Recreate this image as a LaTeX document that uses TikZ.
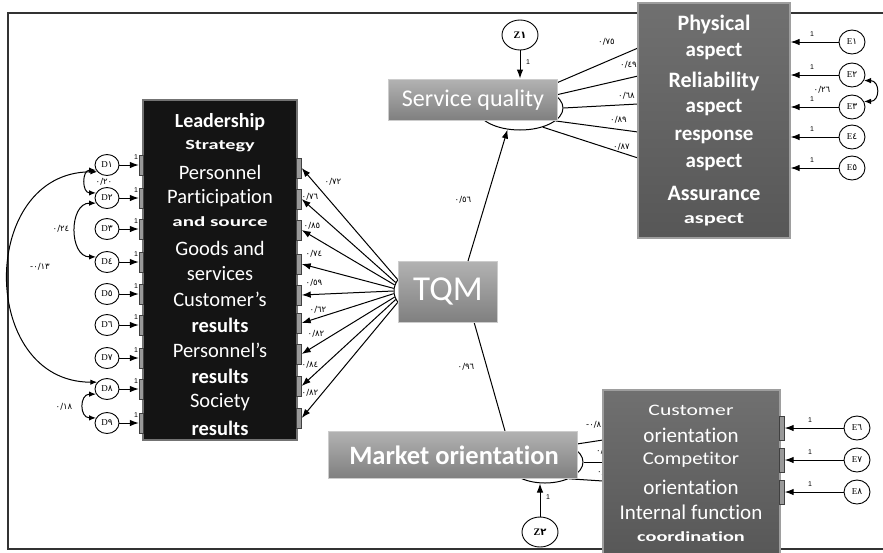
\documentclass[tikz,border=0pt]{standalone}
\usepackage{fontspec}
\setmainfont{Carlito}[Ligatures=NoCommon]
\newfontfamily\digitfont{DejaVu Sans}
\newfontfamily\letterfont{Liberation Serif}
\newfontfamily\smallfont{Liberation Sans}
\usetikzlibrary{arrows.meta,shapes.geometric}
\pgfdeclarelayer{back}
\pgfsetlayers{back,main}
\newcommand\txtsize[1]{\fontsize{#1}{#1}\selectfont}
\newcommand\wide[2]{\scalebox{#1}[1]{#2}}

\tikzset{
  link/.style={draw=black, line width=1pt},
  arr/.style={link, -{Latex[length=9pt,width=6.5pt]}},
  dual/.style={link, {Latex[length=7pt,width=5.5pt]}-{Latex[length=7pt,width=5.5pt]}},
  errD/.style={ellipse, draw, line width=0.9pt, fill=white, inner sep=0pt,
    minimum width=24pt, minimum height=21pt, font=\letterfont\txtsize{9}},
  errE/.style={errD, minimum width=26pt, minimum height=24pt},
  distz/.style={errD, minimum width=36pt, minimum height=30pt, font=\letterfont\bfseries\txtsize{10}},
  latent/.style={ellipse, draw, line width=1pt, fill=white, inner sep=0pt},
  coef/.style={font=\digitfont\txtsize{8.5}, inner sep=0pt},
  one/.style={font=\smallfont\txtsize{7}, inner sep=0pt},
  blackbox/.style={draw=black!55, line width=1.2pt, fill=black!92, inner sep=0pt},
  lightbox/.style={draw=black!20, line width=1pt, top color=black!30, bottom color=black!50, inner sep=0pt},
  darkbox/.style={draw=black!38, line width=1.2pt, top color=black!56, bottom color=black!66, inner sep=0pt},
  tab/.style={draw=black!75, fill=black!40, line width=0.4pt, inner sep=0pt, minimum width=5pt, minimum height=20pt},
  wt/.style={text=white, inner sep=0pt, font=\txtsize{20.5}},
  wb/.style={text=white, inner sep=0pt, font=\bfseries\txtsize{20.5}},
  frame/.style={draw=black!80, line width=1.3pt},
}

\begin{document}
\begin{tikzpicture}[x=1pt,y=-1pt]
\useasboundingbox (0,0) rectangle (883,552);

% ---------- boxes ----------
\node[blackbox, minimum width=154pt, minimum height=340pt] (ind) at (220,270) {};
\node[darkbox, minimum width=152pt, minimum height=235pt] (phys) at (714,120.5) {};
\node[darkbox, minimum width=177pt, minimum height=170pt] (mkt) at (691.5,475) {};
\node[lightbox, minimum width=169pt, minimum height=41pt] (sq) at (472.5,99.5) {};
\node[lightbox, minimum width=99pt, minimum height=61pt] (tqm) at (447.5,291.5) {};
\node[lightbox, minimum width=249pt, minimum height=47pt] (mo) at (452.5,454.5) {};

% ---------- box texts ----------
\node[wb, font=\bfseries\txtsize{20}] (t1) at (220,122) {Leadership};
\node[wb, font=\bfseries\txtsize{14}] (t2) at (220,146) {\wide{1.45}{Strategy}};
\node[wt] (t3) at (220,172) {Personnel};
\node[wt] (t4) at (220,198) {Participation};
\node[wb, font=\bfseries\txtsize{14}] (t5) at (220,222) {\wide{1.5}{and source}};
\node[wt] (t6) at (220,248) {Goods and};
\node[wt] (t7) at (220,274) {services};
\node[wt] (t8) at (220,299) {Customer’s};
\node[wb] (t9) at (220,325) {results};
\node[wt] (t10) at (220,350) {Personnel’s};
\node[wb] (t11) at (220,376) {results};
\node[wt] (t12) at (220,402) {Society};
\node[wb] (t13) at (220,428) {results};

\node[wb, font=\bfseries\txtsize{22}] (p1) at (714,25) {Physical};
\node[wb, font=\bfseries\txtsize{21}] (p2) at (714,52) {aspect};
\node[wb, font=\bfseries\txtsize{22}] (p3) at (714,82) {Reliability};
\node[wb, font=\bfseries\txtsize{21}] (p4) at (714,108) {aspect};
\node[wb, font=\bfseries\txtsize{21}] (p5) at (714,137) {response};
\node[wb, font=\bfseries\txtsize{21}] (p6) at (714,163) {aspect};
\node[wb, font=\bfseries\txtsize{22}] (p7) at (714,193) {Assurance};
\node[wb, font=\bfseries\txtsize{16}] (p8) at (714,220) {\wide{1.4}{aspect}};

\node[wt, font=\txtsize{16}] (m1) at (691,410) {\wide{1.35}{Customer}};
\node[wt, font=\txtsize{21}] (m2) at (691,435) {orientation};
\node[wt, font=\txtsize{18}] (m3) at (691,460) {\wide{1.15}{Competitor}};
\node[wt, font=\txtsize{21}] (m4) at (691,487) {orientation};
\node[wt, font=\txtsize{21}] (m5) at (691,512) {Internal function};
\node[wb, font=\bfseries\txtsize{14}] (m6) at (691,537) {\wide{1.45}{coordination}};

\node[wt, font=\txtsize{24}] (sqt) at (473,100) {Service quality};
\node[wt, font=\txtsize{35}] (tqmt) at (448,291) {TQM};
\node[wb, font=\bfseries\txtsize{26.5}] (mot) at (454,455) {Market orientation};

% ---------- layer behind the boxes ----------
\begin{pgfonlayer}{back}
  \draw[frame] (883,13) -- (8,13) -- (8,549) -- (883,549);
  \node[latent, minimum width=100pt, minimum height=58pt] (tqmE) at (444,291) {};
  \node[latent, minimum width=86pt, minimum height=44pt] (sqE) at (520,108) {};
  \node[latent, minimum width=76pt, minimum height=42pt] (moE) at (545,462) {};

  % service quality -> its aspects
  \foreach \i/\yy/\ang in {1/48/40,2/76/20,3/104/0,4/132/-20,5/158/-40} {
    \coordinate (pin\i) at (638,\yy);
    \draw[link] (sqE.\ang) -- (pin\i);
  }
  \node[coef, anchor=west] (c1) at (598,42) {٠/٧٥};
  \node[coef, anchor=west] (c2) at (620,65) {٠/٤٩};
  \node[coef, anchor=west] (c3) at (618,96) {٠/٦٨};
  \node[coef, anchor=west] (c4) at (610,120) {٠/٨٩};
  \node[coef, anchor=west] (c5) at (613,147) {٠/٨٧};

  % market orientation -> its dimensions
  \foreach \i/\yy/\ang in {1/440/35,2/462/0,3/481/-35} {
    \coordinate (min\i) at (603,\yy);
    \draw[link] (moE.\ang) -- (min\i);
  }
  \node[coef, anchor=west] (c6) at (586,425) {-٠/٨١};
  \node[coef, anchor=west] (c7) at (596,451) {٠/٩٠};
  \node[coef, anchor=west] (c8) at (597,472) {٠/٧٩};

  % TQM -> market orientation
  \coordinate (tq2) at (474,322);
  \coordinate (mo1) at (505,431);
  \draw[link] (tq2) -- (mo1);
\end{pgfonlayer}

% ---------- TQM -> indicators ----------
\foreach \i/\yy/\ang in {1/168/166,2/199/170,3/230/173,4/264/177,5/295/180,6/323/183,7/354/187,8/386/190,9/418/194} {
  \node[tab] (tabR\i) at (299,\yy) {};
  \draw[arr] (tqmE.\ang) -- (tabR\i.east);
}
\node[coef] (f1) at (333,182) {٠/٧٢};
\node[coef] (f2) at (310,197) {٠/٧٦};
\node[coef] (f3) at (312,226) {٠/٨٥};
\node[coef] (f4) at (314,254) {٠/٧٤};
\node[coef] (f5) at (314,283) {٠/٥٩};
\node[coef] (f6) at (318,310) {٠/٦٢};
\node[coef] (f7) at (316,334) {٠/٨٢};
\node[coef] (f8) at (310,365) {٠/٨٤};
\node[coef] (f9) at (310,393) {٠/٨٢};

% TQM -> service quality
\coordinate (tq1) at (468,261);
\draw[arr] (tq1) -- (sqE.240);
\node[coef] (g1) at (463,200) {٠/٥٦};
\node[coef] (g2) at (466,367) {٠/٩٦};

% ---------- disturbances ----------
\node[distz] (Z1) at (520,35) {Z{\digitfont ١}};
\draw[arr] (Z1.south) -- (Z1.south |- sq.north);
\node[one] (z1) at (528,62) {1};
\node[distz] (Z2) at (540,532) {Z{\digitfont ٢}};
\draw[arr] (Z2.north) -- (Z2.north |- moE.south);
\node[one] (z2) at (548,497) {1};

% ---------- indicator errors D ----------
\foreach \i/\yy/\dg in {1/165/١,2/198/٢,3/229/٣,4/262/٤,5/294/٥,6/325/٦,7/358/٧,8/389/٨,9/423/٩} {
  \node[errD] (D\i) at (107,\yy) {D{\digitfont\dg}};
  \node[tab, minimum width=4pt] (tabL\i) at (141,\yy) {};
  \draw[arr] (D\i.east) -- (tabL\i.west);
  \node[one] (d\i) at (136,\yy-8) {1};
}
\draw[dual] (D1.205) to[out=180,in=180,looseness=1.6] (D2.155);
\draw[dual] (D2.205) to[out=180,in=180,looseness=1.3] (D4.155);
\draw[dual] (D1.215) to[out=180,in=180,looseness=1.45] (D8.145);
\draw[dual] (D8.205) to[out=180,in=180,looseness=1.8] (D9.155);
\node[coef] (k1) at (104,182) {٠/٢٠};
\node[coef] (k2) at (61,229) {٠/٢٤};
\node[coef] (k3) at (40,267) {-٠/١٣};
\node[coef] (k4) at (64,407) {٠/١٨};

% ---------- indicator errors E ----------
\foreach \i/\yy/\dg in {1/42/١,2/75/٢,3/107/٣,4/137/٤,5/168/٥} {
  \node[errE] (E\i) at (852,\yy) {E{\digitfont\dg}};
  \draw[arr] (E\i.west) -- (E\i.west -| phys.east);
  \node[one] (e\i) at (812,\yy-8) {1};
}
\draw[dual] (E2.335) to[out=0,in=0,looseness=2] (E3.25);
\node[coef] (k5) at (822,90) {٠/٢٦};

\foreach \i/\yy/\dg in {6/428/٦,7/460/٧,8/492/٨} {
  \node[errE] (E\i) at (857,\yy) {E{\digitfont\dg}};
  \node[tab, minimum height=24pt] (tabM\i) at (782,\yy) {};
  \draw[arr] (E\i.west) -- (tabM\i.east);
  \node[one] (e\i) at (810,\yy-8) {1};
}
\end{tikzpicture}
\end{document}
